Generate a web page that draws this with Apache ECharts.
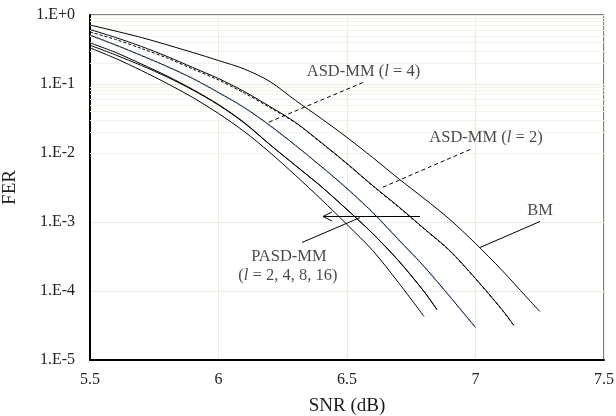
<!DOCTYPE html>
<html>
<head>
<meta charset="utf-8">
<script src="https://cdn.jsdelivr.net/npm/echarts@6/dist/echarts.min.js"></script>
<style>
  html, body { margin: 0; padding: 0; background: #fff; }
  #chart { width: 616px; height: 416px; }
</style>
</head>
<body>
<div id="chart"></div>
<script>
// FER curves (SNR in dB)
const snrBM = [5.5, 5.7, 5.9, 6.0, 6.1, 6.2, 6.3, 6.4, 6.5, 6.6, 6.7, 6.8, 6.9, 7.0, 7.1, 7.2, 7.25]
const ferBM = [0.716, 0.472, 0.286, 0.219, 0.165, 0.1087, 0.0577, 0.0316, 0.0168, 0.0086, 0.00427, 0.00219, 0.00109, 0.000488, 0.000205, 0.0000805, 0.0000505]

const snrAsd2 = [5.5, 5.6, 5.7, 5.8, 5.9, 6.0, 6.1, 6.2, 6.3, 6.4, 6.5, 6.6, 6.7, 6.8, 6.9, 7.0, 7.1, 7.15]
const ferAsd2 = [0.616, 0.472, 0.350, 0.2505, 0.1734, 0.1201, 0.0778, 0.0472, 0.0277, 0.0142, 0.00705, 0.00338, 0.00168, 0.000805, 0.000386, 0.000152, 0.0000558, 0.0000316]
const ferPasd2 = [0.567, 0.4415, 0.327, 0.238, 0.165, 0.1143, 0.0741, 0.0456, 0.0272, 0.01396, 0.00693, 0.00332, 0.00165, 0.000792, 0.00038, 0.00015, 0.0000549, 0.0000311]

const snrAsd4 = [5.5, 5.6, 5.7, 5.8, 5.9, 6.0, 6.1, 6.2, 6.3, 6.4, 6.5, 6.6, 6.7, 6.8, 6.9, 7.0]
const ferAsd4 = [0.510, 0.3673, 0.2588, 0.1793, 0.1201, 0.0753, 0.0456, 0.02503, 0.01284, 0.00637, 0.00306, 0.001373, 0.000558, 0.0002265, 0.0000832, 0.0000296]

const snrPasd4 = [5.5, 5.6, 5.7, 5.8, 5.9, 6.0, 6.1, 6.2, 6.3, 6.4, 6.5, 6.6, 6.7, 6.8, 6.85]
const ferPasd4 = [0.3955, 0.286, 0.195, 0.1306, 0.0832, 0.0504, 0.02767, 0.01327, 0.00659, 0.00327, 0.001518, 0.000681, 0.0002767, 0.0000983, 0.0000539]
const ferPasd8 = [0.365, 0.263, 0.1854, 0.1263, 0.0818, 0.0496, 0.0272, 0.0132, 0.00655, 0.00325, 0.00151, 0.000678, 0.0002755, 0.0000978, 0.0000536]

const snrPasd16 = [5.5, 5.6, 5.7, 5.8, 5.9, 6.0, 6.1, 6.2, 6.3, 6.4, 6.5, 6.6, 6.7, 6.8]
const ferPasd16 = [0.3347, 0.2342, 0.1569, 0.1017, 0.0637, 0.03737, 0.0205, 0.01017, 0.00472, 0.00212, 0.00092, 0.000386, 0.0001328, 0.0000427]

// axis ticks
const xTicks = [5.5, 6, 6.5, 7, 7.5]
const decades = [-5, -4, -3, -2, -1]
const minorSteps = [2, 3, 4, 5, 6, 7, 8, 9]

const serif = 'Liberation Serif'

const zip = (xs, ys) => xs.map((x, i) => [x, ys[i]])

const curve = (name, xs, ys, extra) => Object.assign({
  name: name,
  type: 'line',
  data: zip(xs, ys),
  smooth: 0.3,
  symbol: 'none',
  silent: true,
  lineStyle: { color: '#000', width: 1 },
  z: 3
}, extra || {})

// faint log sub-grid lines
const minorVals = []
decades.forEach(d => {
  minorSteps.forEach(m => { minorVals.push(m * Math.pow(10, d)) })
})

const txt = { fontFamily: serif, fontSize: 16.5, color: '#1a1a1a' }
const ital = { fontFamily: serif, fontSize: 16.5, color: '#1a1a1a', fontStyle: 'italic' }

// annotation text (data coords)
const notes = [
  { value: [6.564, 0.1518], text: '{n|ASD-MM (}{i|l}{n| = 4)}' },
  { value: [7.041, 0.0168], text: '{n|ASD-MM (}{i|l}{n| = 2)}' },
  { value: [7.251, 0.00147], text: '{n|BM}' },
  { value: [6.274, 0.000316], text: '{n|PASD-MM}' },
  { value: [6.27, 0.000168], text: '{n|(}{i|l}{n| = 2, 4, 8, 16)}' }
]

// leader lines (data coords)
const dashed = { type: [4, 3], color: '#000', width: 1 }
const solid = { type: 'solid', color: '#000', width: 1 }
const leaders = [
  [[6.562, 0.105], [6.193, 0.0277], dashed],
  [[6.979, 0.01124], [6.628, 0.00306], dashed],
  [[7.251, 0.001017], [7.0175, 0.000427], solid],
  [[6.325, 0.000505], [6.551, 0.00116], solid],
  [[6.784, 0.001202], [6.4066, 0.001202], solid],
  [[6.4066, 0.001202], [6.4416, 0.001396], solid],
  [[6.4066, 0.001202], [6.4416, 0.001034], solid]
]

const chart = echarts.init(document.getElementById('chart'))
chart.setOption({
  animation: false,
  backgroundColor: '#fff',
  grid: {
    left: 90,
    right: 12,
    top: 15,
    bottom: 56,
    outerBoundsMode: 'none',
    containLabel: false,
    show: true,
    borderColor: '#000',
    borderWidth: 1
  },
  xAxis: {
    type: 'value',
    min: 5.5,
    max: 7.5,
    interval: 0.5,
    name: 'SNR (dB)',
    nameLocation: 'middle',
    nameGap: 37,
    nameTextStyle: { fontFamily: serif, fontSize: 19, color: '#1a1a1a' },
    axisLine: { show: true, lineStyle: { color: '#000', width: 2 } },
    axisTick: { show: false },
    axisLabel: {
      margin: 12,
      fontFamily: serif,
      fontSize: 16,
      color: '#222',
      formatter: v => (xTicks.indexOf(v) >= 0 ? String(v) : '')
    },
    splitLine: { show: true, lineStyle: { color: '#ecece2', width: 1 } }
  },
  yAxis: {
    type: 'log',
    logBase: 10,
    min: 1e-5,
    max: 1,
    interval: 1,
    name: 'FER',
    nameLocation: 'middle',
    nameGap: 70,
    nameRotate: 90,
    nameTextStyle: { fontFamily: serif, fontSize: 19, color: '#1a1a1a' },
    axisLine: { show: true, lineStyle: { color: '#000', width: 2 } },
    axisTick: { show: false },
    axisLabel: {
      margin: 15,
      fontFamily: serif,
      fontSize: 16,
      color: '#222',
      formatter: v => {
        const e = Math.round(Math.log10(v))
        return '1.E' + (e >= 0 ? '+' : '') + e
      }
    },
    splitLine: { show: true, lineStyle: { color: '#ecece0', width: 1 } }
  },
  series: [
    {
      name: 'grid',
      type: 'line',
      data: [],
      silent: true,
      z: 1,
      markLine: {
        z: 1,
        silent: true,
        symbol: ['none', 'none'],
        label: { show: false },
        lineStyle: { color: '#f3f3ea', width: 1, type: 'solid' },
        data: minorVals.map(v => ({ yAxis: v }))
      }
    },
    curve('BM', snrBM, ferBM),
    curve('ASD-MM l=2', snrAsd2, ferAsd2),
    curve('PASD-MM l=2', snrAsd2, ferPasd2, { lineStyle: { color: '#000', width: 1, type: [3, 2] } }),
    curve('ASD-MM l=4 base', snrAsd4, ferAsd4),
    curve('ASD-MM l=4', snrAsd4, ferAsd4, { lineStyle: { color: '#4a6a9a', width: 1.2, type: [3, 3] }, z: 4 }),
    curve('PASD-MM l=4', snrPasd4, ferPasd4),
    curve('PASD-MM l=8', snrPasd4, ferPasd8),
    curve('PASD-MM l=16', snrPasd16, ferPasd16),
    {
      name: 'notes',
      type: 'scatter',
      symbolSize: 1,
      silent: true,
      itemStyle: { color: 'transparent' },
      z: 5,
      data: notes.map(n => ({
        value: n.value,
        label: {
          show: true,
          position: 'inside',
          formatter: n.text,
          rich: { n: txt, i: ital }
        }
      })),
      markLine: {
        silent: true,
        symbol: ['none', 'none'],
        label: { show: false },
        data: leaders.map(l => [
          { coord: l[0], lineStyle: l[2] },
          { coord: l[1] }
        ])
      }
    }
  ]
})
</script>
</body>
</html>
